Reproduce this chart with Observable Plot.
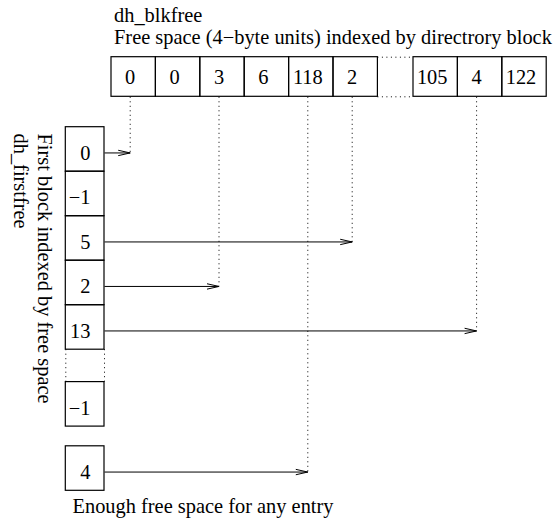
<!DOCTYPE html>
<html><head><meta charset="utf-8">
<script src="https://cdn.jsdelivr.net/npm/d3@7"></script>
<script src="https://cdn.jsdelivr.net/npm/@observablehq/plot@0.6"></script>
<style>html,body{margin:0;padding:0;background:#fff;}</style>
</head><body><div id="chart"></div>
<script>
// ---- Data ----
// dh_blkfree: free space per directory block (block index -> value); blocks 6..11 elided
const blkfreeIndex = [0, 1, 2, 3, 4, 5, 12, 13, 14];
const blkfreeValue = ["0", "0", "3", "6", "118", "2", "105", "4", "122"];
// dh_firstfree: first block indexed by free space (slot 5 onwards elided, then the last slot)
const firstfreeSlot = [0, 1, 2, 3, 4, "last"];
const firstfreeValue = [0, -1, 5, 2, 13, -1];
// extra entry: enough free space for any entry
const anyEntryValue = 4;
const titleLines = ["dh_blkfree", "Free space (4\u2212byte units) indexed by directrory block"];
const sideLines = ["First block indexed by free space", "dh_firstfree"];
const captionText = "Enough free space for any entry";

// ---- Layout (pixel geometry of the diagram) ----
const W = 559, H = 520;
const L = {
  rowX0: 111, cellW: 44.4, gapW: 35.6, rowY0: 56.7, rowY1: 96.3,
  colX0: 65.3, colX1: 104, colY0: 126.7, cellH: 44.5, colGap: 32.4, entryGap: 19.7,
  font: 20.4
};
const fmt = v => (v < 0 ? "\u2212" + Math.abs(v) : String(v));
function rowLeft(i) {
  return i < 6 ? L.rowX0 + i * L.cellW : L.rowX0 + (6 + i - 12) * L.cellW + L.gapW;
}
function colTop(slot) {
  if (slot === "last") return L.colY0 + 5 * L.cellH + L.colGap;
  if (slot === "entry") return L.colY0 + 6 * L.cellH + L.colGap + L.entryGap;
  return L.colY0 + slot * L.cellH;
}
const topCells = blkfreeIndex.map((b, k) => {
  const x1 = rowLeft(b);
  return {b, text: blkfreeValue[k], x1, x2: x1 + L.cellW, y1: L.rowY0, y2: L.rowY1, tx: x1 + L.cellW / 2 - 3.5};
});
const colEntries = firstfreeSlot.map((s, k) => ({slot: s, v: firstfreeValue[k]}))
  .concat([{slot: "entry", v: anyEntryValue}]);
const colCells = colEntries.map(e => {
  const y1 = colTop(e.slot);
  return {...e, text: fmt(e.v), x1: L.colX0, x2: L.colX1, y1, y2: y1 + L.cellH, cy: y1 + L.cellH / 2};
});
const links = colCells.filter(c => c.v >= 0).map(c => {
  const target = topCells.find(t => t.b === c.v);
  return {x1: L.colX1, x2: target.tx, y: c.cy + 3.5};
});
const wings = links.flatMap(l => [
  {x1: l.x2, y1: l.y, x2: l.x2 - 12, y2: l.y - 2.7},
  {x1: l.x2, y1: l.y, x2: l.x2 - 12, y2: l.y + 2.7}
]);
const gapX1 = rowLeft(5) + L.cellW, gapX2 = rowLeft(12);
const colGapY1 = colTop(4) + L.cellH, colGapY2 = colTop("last");

const dots = "1,3.5";
const txt = {fontSize: L.font, fill: "black", fontFamily: "Liberation Serif"};

const chart = Plot.plot({
  width: W, height: H, margin: 0,
  x: {domain: [0, W], range: [0, W], axis: null},
  y: {domain: [0, H], range: [0, H], axis: null},
  style: {fontFamily: "Liberation Serif", background: "white", color: "black"},
  marks: [
    // dotted drop lines from blkfree cells
    Plot.link(links, {x1: "x2", x2: "x2", y1: () => L.rowY1, y2: "y", stroke: "black", strokeWidth: 1, strokeDasharray: dots}),
    // arrows
    Plot.link(links, {x1: "x1", x2: "x2", y1: "y", y2: "y", stroke: "black", strokeWidth: 1}),
    Plot.link(wings, {x1: "x1", x2: "x2", y1: "y1", y2: "y2", stroke: "black", strokeWidth: 1}),
    // top row cells
    Plot.rect(topCells, {x1: "x1", x2: "x2", y1: "y1", y2: "y2", fill: "none", stroke: "black", strokeWidth: 1.2}),
    Plot.text(topCells, {x: "tx", y: d => (d.y1 + d.y2) / 2, text: "text", lineAnchor: "middle", ...txt}),
    Plot.ruleY([L.rowY0, L.rowY1], {y: d => d, x1: gapX1, x2: gapX2, stroke: "black", strokeDasharray: dots}),
    // column cells
    Plot.rect(colCells, {x1: "x1", x2: "x2", y1: "y1", y2: "y2", fill: "none", stroke: "black", strokeWidth: 1.2}),
    Plot.text(colCells, {x: () => L.colX0 + 24.7, y: d => d.cy + 10.5, text: "text", textAnchor: "end", lineAnchor: "bottom", ...txt}),
    Plot.ruleX([L.colX0, L.colX1], {x: d => d, y1: colGapY1, y2: colGapY2, stroke: "black", strokeDasharray: dots}),
    // titles
    Plot.text(titleLines, {x: () => 113.5, y: (d, i) => 21 + i * 22.5, text: d => d, textAnchor: "start", lineAnchor: "bottom", ...txt}),
    Plot.text(sideLines, {x: (d, i) => 44 - i * 24, y: () => 133, text: d => d, rotate: 90, textAnchor: "start", lineAnchor: "middle", ...txt}),
    Plot.text([captionText], {x: () => 72, y: () => 512, text: d => d, textAnchor: "start", lineAnchor: "bottom", ...txt})
  ]
});
document.getElementById("chart").appendChild(chart);
</script>
</body></html>
